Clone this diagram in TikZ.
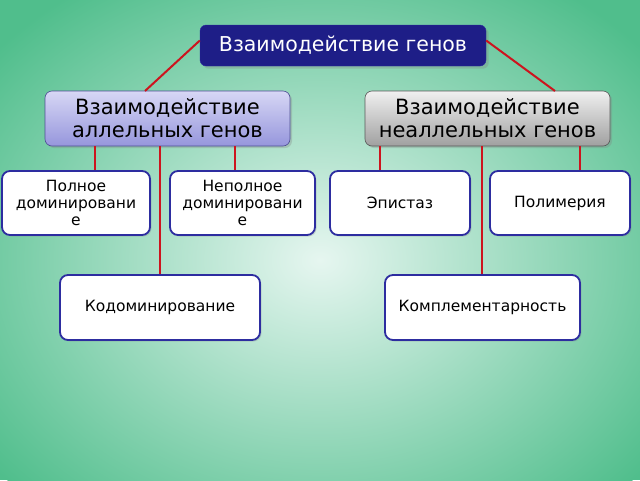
\documentclass[tikz,border=0pt]{standalone}
\usepackage{fontspec}
\setmainfont{DejaVu Sans}
\usetikzlibrary{shadows}
\definecolor{bord}{RGB}{45,45,160}
\definecolor{ln}{RGB}{205,20,30}
\definecolor{bgout}{RGB}{80,190,140}
\definecolor{bgin}{RGB}{230,246,240}
\begin{document}
\begin{tikzpicture}[x=1pt,y=-1pt,
 box/.style={draw=bord,line width=1.8pt,rounded corners=8pt,fill=white,align=center,font=\fontsize{15.5}{17}\selectfont,inner sep=0pt,drop shadow={opacity=0.25,shadow xshift=1.5pt,shadow yshift=-1.5pt}},
 mid/.style={draw=bord!60!gray,line width=0.6pt,rounded corners=7pt,align=center,font=\fontsize{21}{23}\selectfont,inner sep=0pt,drop shadow={opacity=0.3,shadow xshift=2pt,shadow yshift=-2pt}},
 con/.style={draw=ln,line width=2pt}]
\useasboundingbox (0,0) rectangle (640,480);
\fill[bgout] (0,0) rectangle (640,480);
\begin{scope}
\clip (0,0) rectangle (640,480);
\shade[inner color=bgin,outer color=bgout] (320,260) ellipse (420 and 330);
\end{scope}
\node[draw=bord,rounded corners=6pt,fill={rgb,255:red,30;green,30;blue,135},text=white,minimum width=286pt,minimum height=41pt,font=\fontsize{20.5}{22}\selectfont,drop shadow={opacity=0.3}] (top) at (343,45.5) {Взаимодействие генов};
\node[mid,top color={rgb,255:red,215;green,215;blue,245},bottom color={rgb,255:red,150;green,150;blue,220},minimum width=245pt,minimum height=55pt] (la) at (167.5,118.5) {Взаимодействие\\аллельных генов};
\node[mid,draw=gray!70!black,top color={rgb,255:red,240;green,240;blue,240},bottom color={rgb,255:red,160;green,160;blue,160},minimum width=245pt,minimum height=55pt] (ra) at (487.5,118.5) {Взаимодействие\\неаллельных генов};
\node[box,minimum width=148pt,minimum height=64pt] (pd) at (76,203) {Полное\\доминировани\\е};
\node[box,minimum width=145pt,minimum height=64pt] (nd) at (242.5,203) {Неполное\\доминировани\\е};
\node[box,minimum width=140pt,minimum height=64pt] (ep) at (400,203) {Эпистаз};
\node[box,minimum width=140pt,minimum height=64pt] (po) at (560,203) {Полимерия};
\node[box,minimum width=200pt,minimum height=65pt] (ko) at (160,307.5) {Кодоминирование};
\node[box,minimum width=195pt,minimum height=65pt] (km) at (482.5,307.5) {Комплементарность};
\draw[con] (top.west) ++(0,-5) -- (145,91);
\draw[con] (top.east) ++(0,-5) -- (555,91);
\draw[con] (la.south -| 95,0) -- (pd.north -| 95,0);
\draw[con] (la.south -| 235,0) -- (nd.north -| 235,0);
\draw[con] (la.south -| 160,0) -- (ko.north -| 160,0);
\draw[con] (ra.south -| 380,0) -- (ep.north -| 380,0);
\draw[con] (ra.south -| 580,0) -- (po.north -| 580,0);
\draw[con] (ra.south -| 482,0) -- (km.north -| 482,0);
\end{tikzpicture}
\end{document}
